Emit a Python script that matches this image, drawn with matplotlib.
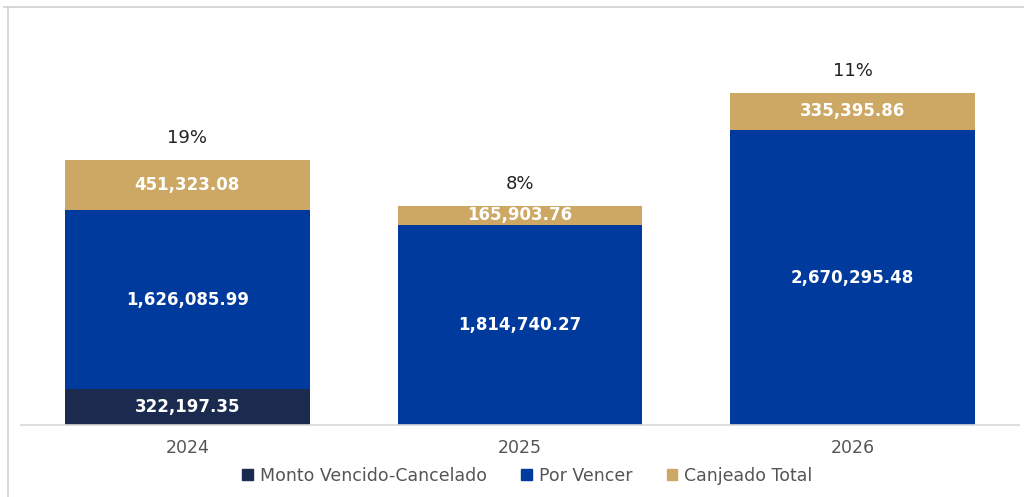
import matplotlib.pyplot as plt
from matplotlib.lines import Line2D
from matplotlib.patches import Patch
import numpy as np

years = ["2024", "2025", "2026"]
vencido = [322197.35, 0, 0]
por_vencer = [1626085.99, 1814740.27, 2670295.48]
canjeado = [451323.08, 165903.76, 335395.86]

c_venc = "#1b2a4f"
c_porv = "#003a9c"
c_canj = "#cda864"

fig = plt.figure(figsize=(10.24, 4.97), dpi=100)
ax = fig.add_axes([21/1024, 72/497, 998/1024, 405/497])

x = np.arange(len(years))
w = 0.736
venc = np.array(vencido)
porv = np.array(por_vencer)
canj = np.array(canjeado)

ax.bar(x, venc, w, color=c_venc)
ax.bar(x, porv, w, bottom=venc, color=c_porv)
ax.bar(x, canj, w, bottom=venc + porv, color=c_canj)

lbl = dict(ha="center", va="center", color="white", fontsize=12, fontweight="bold")
for i in range(len(years)):
    if venc[i] > 0:
        ax.text(x[i], venc[i] / 2, f"{venc[i]:,.2f}", **lbl)
    ax.text(x[i], venc[i] + porv[i] / 2, f"{porv[i]:,.2f}", **lbl)
    ax.text(x[i], venc[i] + porv[i] + canj[i] / 2, f"{canj[i]:,.2f}", **lbl)
    tot = venc[i] + porv[i] + canj[i]
    pct = round(canj[i] / tot * 100)
    ax.annotate(f"{pct}%", (x[i], tot), xytext=(0, 16), textcoords="offset points",
                ha="center", va="center", fontsize=13, color="#222222")

ax.set_xlim(-0.5, 2.5)
ax.set_ylim(0, 3.666e6)
ax.set_xticks(x)
ax.set_xticklabels(years, fontsize=12.5, color="#555555")
ax.tick_params(axis="x", length=0, pad=10)
ax.set_yticks([])
for s in ["top", "right", "left"]:
    ax.spines[s].set_visible(False)
ax.spines["bottom"].set_color("#d9d9d9")
ax.spines["bottom"].set_linewidth(1.2)

handles = [Patch(color=c_venc), Patch(color=c_porv), Patch(color=c_canj)]
names = ["Monto Vencido-Cancelado", "Por Vencer", "Canjeado Total"]
leg = fig.legend(handles, names, loc="center", bbox_to_anchor=(0.515, 21/497), ncol=3,
                 frameon=False, fontsize=12.5, handlelength=0.6, handleheight=0.6,
                 handletextpad=0.4, columnspacing=2.0)
for t in leg.get_texts():
    t.set_color("#555555")

# thin outer frame (top and left)
fig.add_artist(Line2D([4/1024, 1], [1 - 7/497, 1 - 7/497], color="#d0d0d0", lw=1.2))
fig.add_artist(Line2D([8/1024, 8/1024], [0, 1 - 7/497], color="#d0d0d0", lw=1.2))

fig.savefig("out.png", dpi=100)
